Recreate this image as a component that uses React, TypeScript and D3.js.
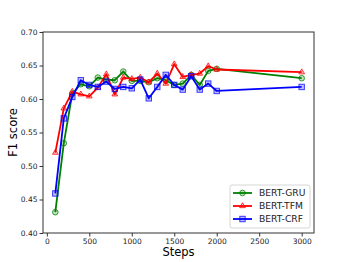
import { useEffect, useRef } from 'react'
import * as d3 from 'd3'

const steps = [100, 200, 300, 400, 500, 600, 700, 800, 900, 1000, 1100, 1200, 1300, 1400, 1500, 1600, 1700, 1800, 1900, 2000, 3000]
const gru = [0.431, 0.534, 0.608, 0.622, 0.619, 0.632, 0.629, 0.628, 0.641, 0.627, 0.627, 0.625, 0.631, 0.628, 0.621, 0.623, 0.636, 0.621, 0.642, 0.645, 0.631]
const tfm = [0.52, 0.586, 0.611, 0.607, 0.604, 0.617, 0.637, 0.607, 0.632, 0.63, 0.632, 0.625, 0.638, 0.623, 0.652, 0.633, 0.636, 0.638, 0.649, 0.644, 0.64]
const crf = [0.459, 0.571, 0.603, 0.628, 0.621, 0.618, 0.626, 0.615, 0.618, 0.616, 0.629, 0.601, 0.618, 0.636, 0.621, 0.614, 0.634, 0.614, 0.623, 0.612, 0.618]
const xTicks = [0, 500, 1000, 1500, 2000, 2500, 3000]
const yTicks = [0.4, 0.45, 0.5, 0.55, 0.6, 0.65, 0.7]

const series = [
    { name: 'BERT-GRU', values: gru, color: 'green', marker: 'circle' },
    { name: 'BERT-TFM', values: tfm, color: 'red', marker: 'triangle' },
    { name: 'BERT-CRF', values: crf, color: 'blue', marker: 'square' },
]

const App = () => {
    const ref = useRef<SVGSVGElement | null>(null)

    useEffect(() => {
        if (!ref.current) return
        const width = 349
        const height = 262
        const m = { left: 43, right: 314, top: 32, bottom: 233 }
        const font = 'DejaVu Sans, sans-serif'

        const svg = d3.select(ref.current)
        svg.selectAll('*').remove()
        svg.attr('width', width).attr('height', height)

        const x = d3.scaleLinear().domain([-45, 3145]).range([m.left, m.right])
        const y = d3.scaleLinear().domain([0.4, 0.7]).range([m.bottom, m.top])

        const drawMarker = (g: d3.Selection<SVGGElement, unknown, null, undefined>, kind: string, cx: number, cy: number, color: string) => {
            const common = (s: d3.Selection<any, unknown, null, undefined>) =>
                s.attr('fill', color).attr('fill-opacity', 0.25).attr('stroke', color).attr('stroke-opacity', 0.75).attr('stroke-width', 1)
            if (kind === 'circle') {
                common(g.append('circle').attr('cx', cx).attr('cy', cy).attr('r', 2.8))
            } else if (kind === 'square') {
                common(g.append('rect').attr('x', cx - 2.7).attr('y', cy - 2.7).attr('width', 5.4).attr('height', 5.4))
            } else {
                const r = 3.3
                common(g.append('path').attr('d', `M${cx},${cy - r}L${cx + r * 0.87},${cy + r * 0.5}L${cx - r * 0.87},${cy + r * 0.5}Z`))
            }
        }

        const line = d3.line<number>().x((_, i) => x(steps[i])).y(d => y(d))

        const plot = svg.append('g')
        series.forEach(s => {
            plot.append('path')
                .attr('d', line(s.values))
                .attr('fill', 'none')
                .attr('stroke', s.color)
                .attr('stroke-width', 1.8)
                .attr('stroke-linejoin', 'round')
            const mg = plot.append('g')
            s.values.forEach((v, i) => drawMarker(mg, s.marker, x(steps[i]), y(v), s.color))
        })

        // frame
        svg.append('rect')
            .attr('x', m.left).attr('y', m.top)
            .attr('width', m.right - m.left).attr('height', m.bottom - m.top)
            .attr('fill', 'none').attr('stroke', '#333').attr('stroke-width', 1)

        const xAxis = svg.append('g').attr('transform', `translate(0,${m.bottom})`)
            .call(d3.axisBottom(x).tickValues(xTicks).tickFormat(d => String(d)).tickSize(3.5).tickPadding(2))
        xAxis.select('.domain').remove()
        const yAxis = svg.append('g').attr('transform', `translate(${m.left},0)`)
            .call(d3.axisLeft(y).tickValues(yTicks).tickFormat(d => (d as number).toFixed(2)).tickSize(3.5).tickPadding(2))
        yAxis.select('.domain').remove()
        svg.selectAll('.tick line').attr('stroke', '#333')
        svg.selectAll('.tick text').attr('font-family', font).attr('font-size', 7.5).attr('fill', '#222')

        svg.append('text')
            .attr('x', (m.left + m.right) / 2).attr('y', 256)
            .attr('text-anchor', 'middle').attr('font-family', font).attr('font-size', 11.5)
            .text('Steps')
        svg.append('text')
            .attr('transform', `translate(17,${(m.top + m.bottom) / 2}) rotate(-90)`)
            .attr('text-anchor', 'middle').attr('font-family', font).attr('font-size', 11.5)
            .text('F1 score')

        // legend
        const lg = svg.append('g')
        lg.append('rect')
            .attr('x', 230).attr('y', 185).attr('width', 80).attr('height', 43).attr('rx', 2)
            .attr('fill', 'white').attr('fill-opacity', 0.8).attr('stroke', '#ccc').attr('stroke-width', 0.8)
        series.forEach((s, i) => {
            const ly = 193 + i * 13
            lg.append('line').attr('x1', 233).attr('x2', 252).attr('y1', ly).attr('y2', ly)
                .attr('stroke', s.color).attr('stroke-width', 1.8)
            drawMarker(lg, s.marker, 242.5, ly, s.color)
            lg.append('text').attr('x', 259).attr('y', ly + 3.3)
                .attr('font-family', font).attr('font-size', 9.2).attr('fill', '#222')
                .text(s.name)
        })
    }, [])

    return (
        <div style={{ position: 'absolute', left: 0, top: 0 }}>
            <svg ref={ref} style={{ display: 'block' }}></svg>
        </div>
    )
}

export default App
